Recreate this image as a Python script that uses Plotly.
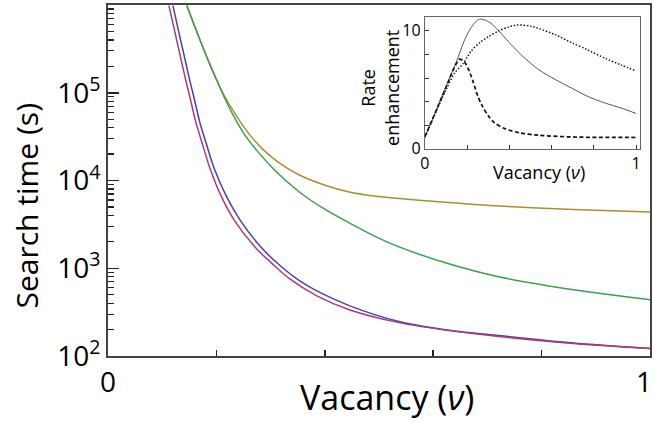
import plotly.graph_objects as go

# ---------------- main panel data ----------------
x_purple = [0.1124, 0.1235, 0.1327, 0.1418, 0.1529, 0.1620, 0.1731, 0.1874, 0.2095, 0.2337,
            0.2741, 0.3072, 0.3348, 0.3844, 0.4450, 0.5368, 0.6287, 0.7206, 0.8584, 1.0]
y_purple = [986000, 487000, 274000, 154000, 80000, 46200, 27400, 14200, 6500, 3470,
            1670, 1067, 760, 487, 337, 240, 195, 167, 139, 122]

x_blue = [0.1198, 0.1308, 0.1400, 0.1492, 0.1602, 0.1694, 0.1804, 0.1951, 0.2190, 0.2447,
          0.2833, 0.3200, 0.3531, 0.3844, 0.4450, 0.5368, 0.6287, 0.7206, 0.8584, 1.0]
y_blue = [986000, 487000, 274000, 154000, 80000, 46200, 27400, 14200, 6500, 3470,
          1710, 1040, 721, 555, 375, 247, 197, 171, 140.5, 122]

x_green = [0.1455, 0.1565, 0.1694, 0.1841, 0.2006, 0.2153, 0.2300, 0.2502, 0.2741, 0.3072,
           0.3531, 0.3990, 0.4450, 0.4909, 0.5368, 0.6287, 0.7206, 0.8584, 1.0]
y_green = [986000, 649000, 405000, 240000, 139000, 86600, 57000, 34700, 22200, 13200,
           7400, 4740, 3290, 2340, 1750, 1125, 800, 570, 438]

x_gold = [0.1455, 0.1565, 0.1694, 0.1841, 0.2006, 0.2153, 0.2337, 0.2576, 0.2851, 0.3163,
          0.3531, 0.3990, 0.4450, 0.4909, 0.5368, 0.6287, 0.7206, 0.8584, 1.0]
y_gold = [986000, 649000, 405000, 240000, 139000, 91200, 58500, 35600, 22800, 15800,
          11550, 8890, 7400, 6670, 6240, 5620, 5130, 4680, 4380]

y_tickvals = [1e2, 1e3, 1e4, 1e5]
y_ticktext = ["10<sup>2</sup>", "10<sup>3</sup>", "10<sup>4</sup>", "10<sup>5</sup>"]
y_minor = [k * 10 ** d for d in range(2, 6) for k in range(2, 10)]
x_tickvals = [0.2, 0.4, 0.6, 0.8]

# ---------------- inset data ----------------
xi_solid = [0, 0.05, 0.10, 0.15, 0.19, 0.22, 0.245, 0.263, 0.30, 0.34, 0.40, 0.46, 0.54, 0.62, 0.70, 0.77, 0.85, 0.93, 1.0]
yi_solid = [1.0, 3.1, 5.3, 7.4, 9.3, 10.3, 10.85, 11.0, 10.8, 10.2, 9.0, 7.9, 6.7, 5.85, 5.1, 4.45, 3.9, 3.45, 3.0]

xi_dash = [0, 0.05, 0.10, 0.14, 0.165, 0.19, 0.21, 0.23, 0.25, 0.27, 0.30, 0.33, 0.38, 0.45, 0.54, 0.70, 1.0]
yi_dash = [1.0, 3.1, 5.2, 6.9, 7.6, 7.3, 6.6, 5.6, 4.5, 3.7, 2.8, 2.2, 1.7, 1.35, 1.15, 1.0, 0.96]

xi_dot = [0, 0.05, 0.10, 0.14, 0.18, 0.22, 0.26, 0.30, 0.35, 0.40, 0.44, 0.50, 0.54, 0.62, 0.70, 0.77, 0.85, 0.93, 1.0]
yi_dot = [1.0, 3.0, 5.0, 6.4, 7.2, 8.3, 9.0, 9.5, 10.0, 10.35, 10.5, 10.4, 10.2, 9.65, 8.95, 8.4, 7.7, 7.1, 6.6]

FONT = "Open Sans"

fig = go.Figure()

def main_line(x, y, color):
    fig.add_trace(go.Scatter(x=x, y=y, mode="lines", xaxis="x", yaxis="y",
                             line=dict(color=color, width=1.5, shape="spline", smoothing=0.8),
                             showlegend=False, hoverinfo="skip"))

main_line(x_gold, y_gold, "#a8902e")
main_line(x_green, y_green, "#3c9e4e")
main_line(x_blue, y_blue, "#4444b0")
main_line(x_purple, y_purple, "#b0387c")

def inset_line(x, y, dash, width, color):
    fig.add_trace(go.Scatter(x=x, y=y, mode="lines", xaxis="x2", yaxis="y2",
                             line=dict(color=color, width=width, dash=dash, shape="spline", smoothing=0.8),
                             showlegend=False, hoverinfo="skip"))

inset_line(xi_solid, yi_solid, "solid", 0.9, "#444444")
inset_line(xi_dot, yi_dot, "1.5px,1.8px", 1.4, "#111111")
inset_line(xi_dash, yi_dash, "4px,2.5px", 1.7, "#111111")

fig.update_layout(
    width=654, height=423,
    margin=dict(l=108, r=2, t=5, b=67),
    paper_bgcolor="white", plot_bgcolor="white",
    font=dict(family=FONT, color="black"),
    xaxis=dict(domain=[0, 1], range=[0, 1], tickvals=x_tickvals, showticklabels=False,
               ticks="inside", ticklen=6, tickwidth=1.5, tickcolor="#222",
               showline=True, linecolor="#444", linewidth=2, mirror=True,
               showgrid=False, zeroline=False),
    yaxis=dict(domain=[0, 1], type="log", range=[2, 6], tickvals=y_tickvals, ticktext=y_ticktext,
               ticks="inside", ticklen=11, tickwidth=1.5, tickcolor="#222",
               tickfont=dict(size=28, family=FONT),
               minor=dict(tickvals=y_minor, ticks="inside", ticklen=6, tickwidth=1.2, tickcolor="#222", showgrid=False),
               showline=True, linecolor="#444", linewidth=2, mirror=True,
               showgrid=False, zeroline=False),
    xaxis2=dict(domain=[0.5846, 0.981], anchor="y2", range=[0, 1.0175],
                tickvals=[0, 0.2, 0.4, 0.6, 0.8, 1.0], ticktext=["0", "", "", "", "", "1"],
                ticks="inside", ticklen=4, tickwidth=1, tickcolor="#333",
                tickfont=dict(size=16, family=FONT),
                showline=True, linecolor="#666", linewidth=1, mirror=True,
                showgrid=False, zeroline=False),
    yaxis2=dict(domain=[0.5903, 0.9667], anchor="x2", range=[0, 11.2],
                tickvals=[0, 2, 4, 6, 8, 10], ticktext=["0", "", "", "", "", "10"],
                ticks="inside", ticklen=4, tickwidth=1, tickcolor="#333",
                tickfont=dict(size=16, family=FONT),
                showline=True, linecolor="#666", linewidth=1, mirror=True,
                showgrid=False, zeroline=False),
)

annotations = [
    dict(text="0", x=0, y=0, xref="x", yref="paper", xanchor="center", yanchor="top",
         yshift=-4, showarrow=False, font=dict(size=28, family=FONT)),
    dict(text="1", x=1, y=0, xref="x", yref="paper", xanchor="right", yanchor="top",
         xshift=4, yshift=-4, showarrow=False, font=dict(size=28, family=FONT)),
    dict(text="Search time (s)", x=-0.15, y=0.428, xref="paper", yref="paper",
         xanchor="center", yanchor="middle", textangle=-90, showarrow=False,
         font=dict(size=30, family=FONT)),
    dict(text="Vacancy (<i>ν</i>)", x=0.515, y=-0.118, xref="paper", yref="paper",
         xanchor="center", yanchor="middle", showarrow=False, font=dict(size=34, family=FONT)),
    dict(text="Vacancy (<i>ν</i>)", x=0.796, y=0.525, xref="paper", yref="paper",
         xanchor="center", yanchor="middle", showarrow=False, font=dict(size=18, family=FONT)),
    dict(text="Rate<br>enhancement", x=0.502, y=0.764, xref="paper", yref="paper",
         xanchor="center", yanchor="middle", textangle=-90, showarrow=False,
         font=dict(size=18, family=FONT)),
]
fig.update_layout(annotations=annotations)

fig.write_html("out.html",
               config={"displayModeBar": False, "staticPlot": True},
               post_script="document.body.style.margin='0';document.body.style.overflow='hidden';")
